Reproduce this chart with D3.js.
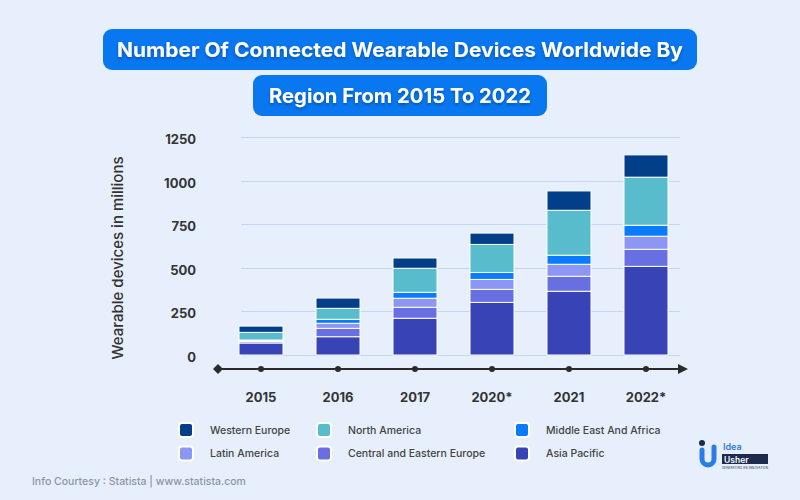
<!DOCTYPE html>
<html>
<head>
<meta charset="utf-8">
<script src="https://cdn.jsdelivr.net/npm/d3@7"></script>
<style>
  html, body { margin: 0; padding: 0; background: #e6effb; }
  svg { display: block; }
</style>
</head>
<body>
<svg id="chart" width="800" height="500"></svg>
<script>
// ---- Data (millions of devices) ----
const years = ["2015", "2016", "2017", "2020*", "2021", "2022*"];
const asiaPacific = [69, 105, 211, 302, 366, 509];
const centralEasternEurope = [8, 48, 63, 75, 86, 98];
const latinAmerica = [5, 29, 52, 57, 69, 75];
const middleEastAfrica = [4, 23, 34, 40, 52, 63];
const northAmerica = [44, 63, 138, 161, 258, 276];
const westernEurope = [36, 59, 59, 65, 111, 128];
const yTicks = [0, 250, 500, 750, 1000, 1250];
const seriesNames = ["Asia Pacific", "Central and Eastern Europe", "Latin America",
  "Middle East And Africa", "North America", "Western Europe"];
const legendOrder = ["Western Europe", "North America", "Middle East And Africa",
  "Latin America", "Central and Eastern Europe", "Asia Pacific"];
const titleLines = ["Number Of Connected Wearable Devices Worldwide By", "Region From 2015 To 2022"];

const colors = {
  "Western Europe": "#023f88",
  "North America": "#58bccc",
  "Middle East And Africa": "#0a7bfb",
  "Latin America": "#8e96f4",
  "Central and Eastern Europe": "#6870e1",
  "Asia Pacific": "#3844b5"
};
const seriesValues = [asiaPacific, centralEasternEurope, latinAmerica, middleEastAfrica, northAmerica, westernEurope];

const table = years.map((y, i) => {
  const row = { year: y };
  seriesNames.forEach((n, k) => row[n] = seriesValues[k][i]);
  return row;
});

const svg = d3.select("#chart");
const font = "Inter, 'Open Sans', sans-serif";

svg.append("rect").attr("width", 800).attr("height", 500).attr("fill", "#e6effb");

// ---- Filters ----
const defs = svg.append("defs");
const f = defs.append("filter").attr("id", "tshadow").attr("x", "-10%").attr("y", "-30%").attr("width", "120%").attr("height", "180%");
f.append("feDropShadow").attr("dx", 0).attr("dy", 2).attr("stdDeviation", 1.5).attr("flood-color", "#003a80").attr("flood-opacity", 0.55);

// ---- Title boxes ----
const titleBoxes = [
  { x: 103, y: 29, w: 594, h: 41, tw: 566, cy: 50 },
  { x: 253, y: 75, w: 294, h: 41, tw: 262, cy: 96 }
];
titleBoxes.forEach((b, i) => {
  svg.append("rect").attr("x", b.x).attr("y", b.y).attr("width", b.w).attr("height", b.h)
    .attr("rx", 9).attr("fill", "#0877f0");
  svg.append("text").attr("x", b.x + b.w / 2).attr("y", b.cy)
    .attr("text-anchor", "middle").attr("dominant-baseline", "central")
    .attr("font-family", font).attr("font-weight", 700).attr("font-size", 20)
    .attr("fill", "#ffffff").attr("filter", "url(#tshadow)")
    .attr("textLength", b.tw).attr("lengthAdjust", "spacingAndGlyphs")
    .text(titleLines[i]);
});

// ---- Scales ----
const x = d3.scaleBand().domain(years).range([222.5, 684.5]).paddingInner(33 / 77).paddingOuter(0.2143);
const y = d3.scaleLinear().domain([0, 1250]).range([355, 137.3]);

// ---- Gridlines ----
svg.append("g").selectAll("line").data(yTicks).join("line")
  .attr("x1", 241).attr("x2", 680)
  .attr("y1", d => Math.round(y(d)) + 0.5).attr("y2", d => Math.round(y(d)) + 0.5)
  .attr("stroke", "#c5d6f0").attr("stroke-width", 1);

// ---- Y axis labels ----
const yAxis = d3.axisLeft(y).tickValues(yTicks).tickFormat(d3.format("d")).tickSize(0).tickPadding(0);
const yg = svg.append("g").attr("transform", "translate(196,2)").call(yAxis);
yg.select(".domain").remove();
yg.selectAll("text").attr("font-family", font).attr("font-weight", 700).attr("font-size", 13)
  .attr("fill", "#333333");

svg.append("text")
  .attr("transform", "translate(117,258) rotate(-90)")
  .attr("text-anchor", "middle").attr("dominant-baseline", "central")
  .attr("font-family", font).attr("font-weight", 500).attr("font-size", 15)
  .attr("fill", "#333333").text("Wearable devices in millions");

// ---- Stacked bars ----
const stack = d3.stack().keys(seriesNames)(table);
svg.append("g").selectAll("g").data(stack).join("g")
  .attr("fill", d => colors[d.key])
  .selectAll("rect").data(d => d).join("rect")
  .attr("x", d => x(d.data.year))
  .attr("width", x.bandwidth())
  .attr("y", d => y(d[1]))
  .attr("height", d => Math.max(0, y(d[0]) - y(d[1])))
  .attr("stroke", "#ffffff").attr("stroke-width", 1);

// ---- X axis ----
const axisY = 369;
const xg = svg.append("g");
xg.append("line").attr("x1", 218).attr("x2", 682).attr("y1", axisY).attr("y2", axisY)
  .attr("stroke", "#2b2b2b").attr("stroke-width", 2);
xg.append("path").attr("d", `M218,${axisY - 5} L223,${axisY} L218,${axisY + 5} L213,${axisY} Z`).attr("fill", "#2b2b2b");
xg.append("path").attr("d", `M678,${axisY - 5} L688,${axisY} L678,${axisY + 5} Z`).attr("fill", "#2b2b2b");
xg.selectAll("circle").data(years).join("circle")
  .attr("cx", d => x(d) + x.bandwidth() / 2).attr("cy", axisY).attr("r", 3).attr("fill", "#2b2b2b");
const xAxis = d3.axisBottom(x).tickSize(0).tickPadding(0);
const xa = svg.append("g").attr("transform", "translate(0,393)").call(xAxis);
xa.select(".domain").remove();
xa.selectAll("text").attr("font-family", font).attr("font-weight", 700).attr("font-size", 13)
  .attr("fill", "#333333");

// ---- Legend ----
const legCols = [179, 317, 515];
const legRows = [430, 453.5];
const lg = svg.append("g");
legendOrder.forEach((name, i) => {
  const cx = legCols[i % 3], cy = legRows[Math.floor(i / 3)];
  lg.append("rect").attr("x", cx).attr("y", cy - 7).attr("width", 14).attr("height", 14)
    .attr("rx", 3).attr("fill", colors[name]).attr("stroke", "#ffffff").attr("stroke-width", 2);
  lg.append("text").attr("x", cx + 31).attr("y", cy).attr("dominant-baseline", "central")
    .attr("font-family", font).attr("font-weight", 500).attr("font-size", 10.5)
    .attr("fill", "#444444").text(name);
});

// ---- Footer ----
svg.append("text").attr("x", 32).attr("y", 481).attr("dominant-baseline", "central")
  .attr("font-family", font).attr("font-weight", 500).attr("font-size", 10.5)
  .attr("fill", "#8c95a8").text("Info Courtesy : Statista | www.statista.com");

// ---- Logo ----
const logo = svg.append("g");
logo.append("path").attr("d", "M702,450 L702,459 A6,6 0 0 0 714,459 L714,447")
  .attr("fill", "none").attr("stroke", "#2b7de6").attr("stroke-width", 5).attr("stroke-linecap", "round");
logo.append("circle").attr("cx", 702).attr("cy", 443).attr("r", 3).attr("fill", "#1d2b4f");
logo.append("text").attr("x", 723).attr("y", 446.5).attr("dominant-baseline", "central")
  .attr("font-family", font).attr("font-weight", 600).attr("font-size", 9).attr("fill", "#2b7de6")
  .text("Idea");
logo.append("rect").attr("x", 722).attr("y", 454).attr("width", 46).attr("height", 10).attr("fill", "#1d2b4f");
logo.append("text").attr("x", 724).attr("y", 459.5).attr("dominant-baseline", "central")
  .attr("font-family", font).attr("font-weight", 600).attr("font-size", 8.5).attr("fill", "#ffffff")
  .text("Usher");
logo.append("text").attr("x", 722).attr("y", 468).attr("dominant-baseline", "central")
  .attr("font-family", font).attr("font-size", 3).attr("fill", "#1d2b4f")
  .attr("textLength", 46).text("GENERATING AN INNOVATION");
</script>
</body>
</html>
